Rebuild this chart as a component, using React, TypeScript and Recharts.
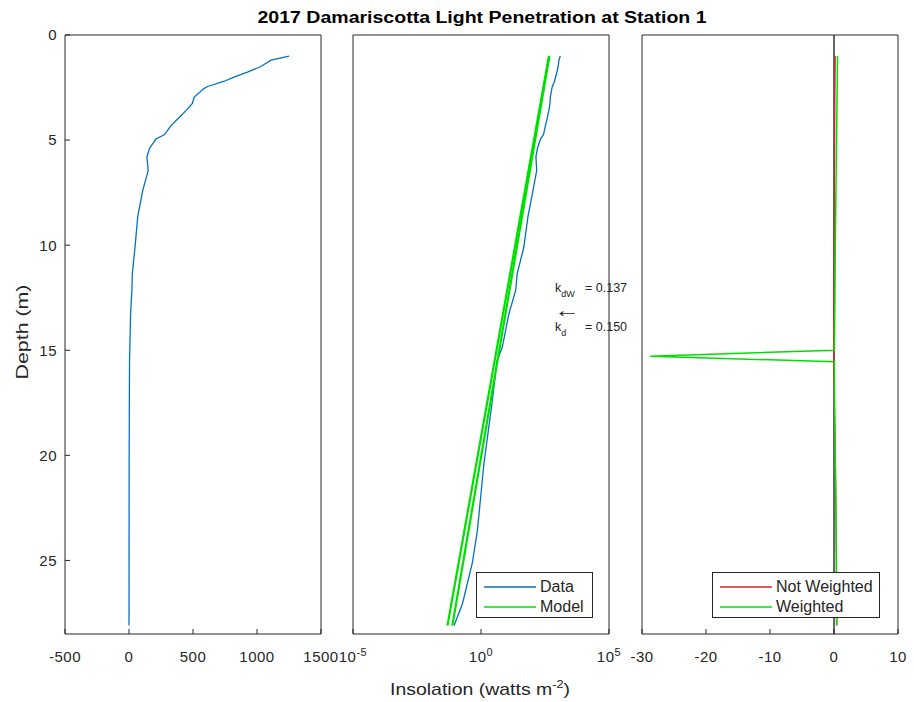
import React from 'react'
import { ScatterChart, Scatter, XAxis, YAxis, ReferenceLine, Legend } from 'recharts'

// measured light profile (depth in m, insolation in W m^-2)
const depth = [1.0, 1.2, 1.5, 1.75, 2.0, 2.2, 2.45, 2.55, 2.95, 3.25, 3.6, 4.0, 4.3, 4.75, 4.95, 5.4, 5.8, 6.45, 7.4, 8.65, 10.1, 11.35, 12.15, 13.25, 14.85, 15.5, 17.5, 20.4, 23.6, 25.1, 27.05, 28.1]
const insolation = [1250, 1110, 1030, 930, 820, 745, 615, 585, 510, 495, 445, 380, 330, 275, 210, 160, 140, 150, 107, 68, 47, 26, 22.6, 12.4, 6.8, 4.2, 2.7, 1.3, 0.72, 0.46, 0.19, 0.089]

// fitted exponential models, end points
const modelDepth = [1.0, 28.1]
const modelKdW = [470, 0.076]
const modelKd = [450, 0.049]

// residuals of the two fits
const residualDepth = [1.0, 2.5, 5.0, 7.5, 10.0, 12.5, 15.0, 15.28, 15.55, 17.5, 20.0, 22.5, 25.0, 28.1]
const residualNotWeighted = [0.2, 0.15, 0.1, 0.05, 0.0, -0.05, -0.05, -0.05, -0.05, 0.05, 0.2, 0.3, 0.4, 0.45]
const residualWeighted = [0.55, 0.5, 0.4, 0.3, 0.2, 0.15, 0.05, -28.7, 0.05, 0.1, 0.2, 0.3, 0.35, 0.4]

const linearTicks = [-500, 0, 500, 1000, 1500]
const logTicks = [1e-5, 1, 1e5]
const residualTicks = [-30, -20, -10, 0, 10]
const depthTicks = [0, 5, 10, 15, 20, 25]

const FONT = '"Liberation Sans", Arial, Helvetica, sans-serif'
const INK = '#262626'
const BLUE = '#0072BD'
const GREEN = '#00E000'
const RED = '#D92020'

const profile = depth.map((d, i) => ({ depth: d, value: insolation[i] }))
const toRows = (vals: number[]) => modelDepth.map((d, i) => ({ depth: d, value: vals[i] }))
const resRows = (vals: number[]) => residualDepth.map((d, i) => ({ depth: d, value: vals[i] }))

const tickStyle = { fontSize: 15, fill: INK, fontFamily: FONT, letterSpacing: 0.5 }
const noDot = () => <g />

const PowerTick = (props: any) => {
    const { x, y, payload } = props
    const exp = Math.round(Math.log10(payload.value))
    return (
        <text x={x} y={y} dy="0.71em" textAnchor="middle" fontSize={15} letterSpacing={0.5} fill={INK} fontFamily={FONT}>
            10<tspan dy={-6} fontSize={11}>{exp}</tspan>
        </text>
    )
}

const legendBox = (entries: { name: string; color: string }[]) => () => (
    <div style={{ border: `1px solid ${INK}`, background: '#fff', boxSizing: 'border-box', width: '100%', height: '100%', padding: '4px 0 0 7px', fontFamily: FONT, fontSize: 16, color: INK, lineHeight: '20px' }}>
        {entries.map(e => (
            <div key={e.name} style={{ display: 'flex', alignItems: 'center', height: 20, whiteSpace: 'nowrap' }}>
                <svg width={52} height={10} style={{ marginRight: 4 }}>
                    <line x1={0} x2={52} y1={5} y2={5} stroke={e.color} strokeWidth={1.5} />
                </svg>
                <span>{e.name}</span>
            </div>
        ))}
    </div>
)

const PLOT_W = 256

const Panel = ({ left, domain, ticks, scale, tick, showDepth, children }: any) => (
    <div style={{ position: 'absolute', left: 0, top: 0 }}>
        <ScatterChart width={914} height={702} margin={{ top: 34, bottom: 38, left: left - 60, right: 914 - left - PLOT_W - 1 }}>
            <XAxis xAxisId="b" type="number" dataKey="value" orientation="bottom" scale={scale} domain={domain} ticks={ticks} allowDataOverflow interval={0}
                height={30} tickSize={-5} tickMargin={22} stroke={INK} tick={tick ?? tickStyle} />
            <XAxis xAxisId="t" type="number" orientation="top" scale={scale} domain={domain} ticks={ticks} allowDataOverflow interval={0}
                height={1} tickSize={-5} stroke={INK} tick={false} />
            <YAxis yAxisId="l" type="number" dataKey="depth" domain={[0, 28.5]} reversed ticks={depthTicks} allowDataOverflow interval={0}
                width={60} tickSize={-5} tickMargin={13} stroke={INK} tick={showDepth ? tickStyle : false} />
            <YAxis yAxisId="r" type="number" orientation="right" domain={[0, 28.5]} reversed ticks={depthTicks} allowDataOverflow interval={0}
                width={1} tickSize={-5} stroke={INK} tick={false} />
            {children}
        </ScatterChart>
    </div>
)

export default function App() {
    return (
        <div style={{ position: 'absolute', left: 0, top: 0, width: 914, height: 702, background: '#fff', fontFamily: FONT }}>
            <Panel left={65} domain={[-500, 1500]} ticks={linearTicks} scale="linear" showDepth>
                <Scatter xAxisId="b" yAxisId="l" name="Data" data={profile} fill={BLUE} line={{ stroke: BLUE, strokeWidth: 1.3 }} shape={noDot} isAnimationActive={false} />
            </Panel>

            <Panel left={353} domain={[1e-5, 1e5]} ticks={logTicks} scale="log" tick={PowerTick}>
                <Scatter xAxisId="b" yAxisId="l" name="Data" data={profile} fill={BLUE} line={{ stroke: BLUE, strokeWidth: 1.3 }} shape={noDot} isAnimationActive={false} />
                <Scatter xAxisId="b" yAxisId="l" name="Model" data={toRows(modelKdW)} fill={GREEN} line={{ stroke: GREEN, strokeWidth: 2.2 }} shape={noDot} isAnimationActive={false} />
                <Scatter xAxisId="b" yAxisId="l" name="Model " data={toRows(modelKd)} fill={GREEN} line={{ stroke: GREEN, strokeWidth: 2.2 }} shape={noDot} isAnimationActive={false} />
                <Legend layout="vertical" align="center" verticalAlign="middle" wrapperStyle={{ left: 476, top: 572, width: 117, height: 46 }}
                    content={legendBox([{ name: 'Data', color: BLUE }, { name: 'Model', color: GREEN }])} />
            </Panel>

            <Panel left={642} domain={[-30, 10]} ticks={residualTicks} scale="linear">
                <Scatter xAxisId="b" yAxisId="l" name="Not Weighted" data={resRows(residualNotWeighted)} fill={RED} line={{ stroke: RED, strokeWidth: 1.2 }} shape={noDot} isAnimationActive={false} />
                <Scatter xAxisId="b" yAxisId="l" name="Weighted" data={resRows(residualWeighted)} fill={GREEN} line={{ stroke: GREEN, strokeWidth: 1.5 }} shape={noDot} isAnimationActive={false} />
                <ReferenceLine xAxisId="b" yAxisId="l" x={0} stroke="#000" strokeWidth={1.2} />
                <Legend layout="vertical" align="center" verticalAlign="middle" wrapperStyle={{ left: 712, top: 572, width: 168, height: 46 }}
                    content={legendBox([{ name: 'Not Weighted', color: RED }, { name: 'Weighted', color: GREEN }])} />
            </Panel>

            <svg width={914} height={702} style={{ position: 'absolute', left: 0, top: 0, pointerEvents: 'none' }} fontFamily={FONT}>
                <text x={482} y={23} textAnchor="middle" fontSize={16} fontWeight="bold" fill="#000" textLength={449} lengthAdjust="spacingAndGlyphs">
                    2017 Damariscotta Light Penetration at Station 1
                </text>
                <text x={480} y={695} textAnchor="middle" fontSize={17} fill={INK} textLength={180} lengthAdjust="spacingAndGlyphs">
                    Insolation (watts m<tspan dy={-7} fontSize={11}>-2</tspan><tspan dy={7}>)</tspan>
                </text>
                <text transform="translate(22,332) rotate(-90)" textAnchor="middle" dy="0.35em" fontSize={17} fill={INK} textLength={95} lengthAdjust="spacingAndGlyphs">
                    Depth (m)
                </text>
                <g fontSize={12.5} fill={INK}>
                    <text x={555} y={292}>k<tspan dy={5} fontSize={9}>dW</tspan></text>
                    <text x={585} y={292}>= 0.137</text>
                    <text x={554} y={317} fontSize={20} textLength={26} lengthAdjust="spacingAndGlyphs">←</text>
                    <text x={555} y={331}>k<tspan dy={5} fontSize={9}>d</tspan></text>
                    <text x={585} y={331}>= 0.150</text>
                </g>
            </svg>
        </div>
    )
}
